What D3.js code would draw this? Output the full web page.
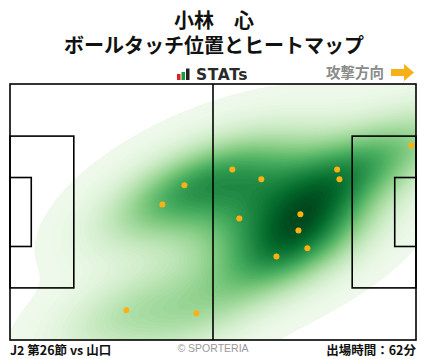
<!DOCTYPE html>
<html>
<head>
<meta charset="utf-8">
<style>
    body { margin: 0; background: #fff; }
    svg { display: block; font-family: "Noto Sans CJK JP", "Noto Sans", sans-serif; }
    .title { font-size: 20px; font-weight: bold; fill: #111; }
    .foot { font-size: 12.5px; font-weight: bold; fill: #111; }
</style>
</head>
<body>
<svg width="428" height="359"></svg>

<script src="https://d3js.org/d3.v7.min.js"></script>
<script>
    // pitch size in metres
    const pitchLen = 105, pitchWid = 68;

    // ball touches (metres from own goal line / top touchline)
    const touchX = [45.1, 39.4, 30.1, 48.2, 57.5, 65.0, 84.6, 85.2, 59.3, 75.1, 74.6, 76.9, 68.9, 103.8];
    const touchY = [26.9, 32.0, 60.1, 60.9, 22.7, 25.3, 22.7, 25.3, 35.7, 34.6, 38.9, 43.6, 45.8, 16.3];

    const titleLines = ["小林\u3000心", "ボールタッチ位置とヒートマップ"];
    const footLeft = "J2 第26節 vs 山口";
    const footRight = "出場時間：62分";

    const margin = { left: 10, right: 12, top: 84, bottom: 19 };
    const W = 428, H = 359;
    const pw = W - margin.left - margin.right;
    const ph = H - margin.top - margin.bottom;

    let svg = d3.select("svg");

    let x = d3.scaleLinear().domain([0, pitchLen]).range([margin.left, margin.left + pw]);
    let y = d3.scaleLinear().domain([0, pitchWid]).range([margin.top, margin.top + ph]);

    // titles
    svg.selectAll(".title")
        .data(titleLines)
        .join("text")
        .attr("class", "title")
        .attr("x", 214)
        .attr("y", (d, i) => 28 + i * 25)
        .attr("text-anchor", "middle")
        .text(d => d);

    // STATs logo
    let logo = svg.append("g").attr("transform", "translate(177,80)");
    logo.append("rect").attr("x", 0).attr("y", -6).attr("width", 3.5).attr("height", 6).attr("fill", "#e02020");
    logo.append("rect").attr("x", 4.5).attr("y", -8).attr("width", 3.5).attr("height", 8).attr("fill", "#1a9a3a");
    logo.append("rect").attr("x", 9).attr("y", -11.5).attr("width", 3.5).attr("height", 11.5).attr("fill", "#222");
    logo.append("text")
        .attr("x", 19).attr("y", 0)
        .style("font-family", "'DejaVu Sans', sans-serif")
        .style("font-weight", "bold")
        .style("font-size", "15.5px")
        .style("letter-spacing", "0.6px")
        .attr("fill", "#2a2a2a")
        .text("STATs");

    // attack direction
    svg.append("text")
        .attr("x", 384).attr("y", 78)
        .attr("text-anchor", "end")
        .style("font-size", "14.5px")
        .style("font-weight", "bold")
        .attr("fill", "#8a8a8a")
        .text("攻撃方向");
    svg.append("path")
        .attr("d", "M391,69 h13 v-5 l10,8.5 l-10,8.5 v-5 h-13 z")
        .attr("fill", "#f7b017");

    // heat map: gaussian kde with full covariance (scott factor)
    const n = touchX.length;
    const mx = d3.mean(touchX), my = d3.mean(touchY);
    let sxx = 0, syy = 0, sxy = 0;
    for (let i = 0; i < n; i++) {
        sxx += (touchX[i] - mx) ** 2;
        syy += (touchY[i] - my) ** 2;
        sxy += (touchX[i] - mx) * (touchY[i] - my);
    }
    const f2 = Math.pow(n, -1 / 3);
    const cxx = sxx / (n - 1) * f2, cyy = syy / (n - 1) * f2, cxy = sxy / (n - 1) * f2;
    const det = cxx * cyy - cxy * cxy;
    const ixx = cyy / det, iyy = cxx / det, ixy = -cxy / det;

    const gx = 211, gy = 137; // grid nodes
    let values = new Float64Array(gx * gy);
    for (let j = 0; j < gy; j++) {
        const py = j / (gy - 1) * pitchWid;
        for (let i = 0; i < gx; i++) {
            const px = i / (gx - 1) * pitchLen;
            let s = 0;
            for (let k = 0; k < n; k++) {
                const dx = px - touchX[k], dy = py - touchY[k];
                s += Math.exp(-0.5 * (dx * dx * ixx + 2 * dx * dy * ixy + dy * dy * iyy));
            }
            values[j * gx + i] = s;
        }
    }
    const vmax = d3.max(values);
    const levels = d3.range(0, 64).map(i => vmax * (0.012 + 0.988 * i / 64));
    let color = d3.scaleSequential(t => d3.interpolateGreens(0.06 + 0.94 * t)).domain([levels[0], vmax]);

    let contours = d3.contours().size([gx, gy]).thresholds(levels)(values);
    let gridPath = d3.geoPath(d3.geoTransform({
        point: function (px, py) {
            this.stream.point(x((px - 0.5) / (gx - 1) * pitchLen), y((py - 0.5) / (gy - 1) * pitchWid));
        }
    }));

    svg.append("clipPath").attr("id", "pitch-clip")
        .append("rect")
        .attr("x", x(0)).attr("y", y(0))
        .attr("width", pw).attr("height", ph);

    svg.append("g")
        .attr("clip-path", "url(#pitch-clip)")
        .selectAll("path")
        .data(contours)
        .join("path")
        .attr("d", gridPath)
        .attr("fill", d => color(d.value));

    // pitch lines
    let lines = svg.append("g")
        .attr("fill", "none")
        .attr("stroke", "#000")
        .attr("stroke-width", 1.6);
    lines.append("rect").attr("x", x(0)).attr("y", y(0)).attr("width", pw).attr("height", ph);
    lines.append("line").attr("x1", x(pitchLen / 2)).attr("x2", x(pitchLen / 2)).attr("y1", y(0)).attr("y2", y(pitchWid));
    const boxes = [
        [0, 16.5, 40.32], [0, 5.5, 18.32],
        [pitchLen - 16.5, 16.5, 40.32], [pitchLen - 5.5, 5.5, 18.32]
    ];
    lines.selectAll(".box")
        .data(boxes)
        .join("rect")
        .attr("x", d => x(d[0]))
        .attr("y", d => y((pitchWid - d[2]) / 2))
        .attr("width", d => x(d[1]) - x(0))
        .attr("height", d => y(d[2]) - y(0));

    // touches
    svg.selectAll(".touch")
        .data(touchX)
        .join("circle")
        .attr("cx", d => x(d))
        .attr("cy", (d, i) => y(touchY[i]))
        .attr("r", 3)
        .attr("fill", "#ffb114");

    // footer
    svg.append("text").attr("class", "foot")
        .attr("x", 10).attr("y", 355)
        .text(footLeft);
    svg.append("text").attr("class", "foot")
        .attr("x", 416).attr("y", 355)
        .attr("text-anchor", "end")
        .text(footRight);
    svg.append("text")
        .attr("x", 213).attr("y", 352)
        .attr("text-anchor", "middle")
        .style("font-family", "'Liberation Sans', Arial, sans-serif")
        .style("font-size", "10.5px")
        .attr("fill", "#999")
        .text("© SPORTERIA");
</script>
</body>
</html>
